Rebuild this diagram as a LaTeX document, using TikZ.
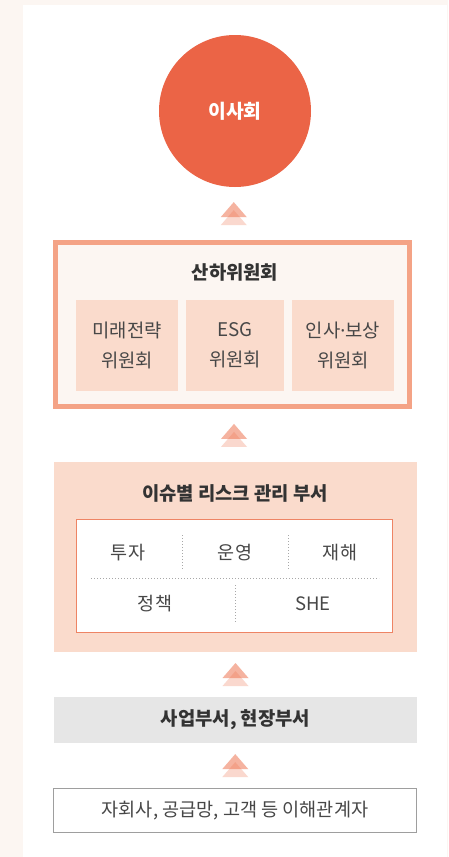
\documentclass[tikz,border=0pt]{standalone}
\usepackage{fontspec}
\setmainfont{Noto Sans CJK KR}
\newfontfamily\narrowdot{Noto Sans}
\definecolor{beige}{HTML}{FCF6F2}
\definecolor{boardred}{HTML}{EB6446}
\definecolor{salmon}{HTML}{F4A386}
\definecolor{peach}{HTML}{FADBCC}
\definecolor{rim}{HTML}{EE8464}
\definecolor{bizgray}{HTML}{E6E6E6}
\definecolor{framegray}{HTML}{9E9E9E}
\definecolor{dotgray}{HTML}{A8A8A8}
\definecolor{darktext}{HTML}{333333}
\definecolor{midtext}{HTML}{474747}
\definecolor{arrowtone}{HTML}{EE7552}

\begin{document}
\begin{tikzpicture}[x=1pt, y=-1pt,
    every node/.style={font=\fontsize{18.5}{22}\selectfont, text=midtext, inner sep=0pt},
    heading/.style={font=\fontsize{18.8}{22}\selectfont\bfseries, text=darktext},
    unit/.style={fill=peach, minimum height=91pt, align=center, font=\fontsize{18.8}{30}\selectfont},
    sep/.style={dotgray, line width=1pt, dash pattern=on 1pt off 2pt}]
    % background
    \fill[beige] (0,0) rectangle (448,857);
    \fill[white] (23,5) rectangle (447,857);
    \useasboundingbox (0,0) rectangle (448,857);

    \node[circle, fill=boardred, minimum size=152pt, text=white, font=\fontsize{19.3}{22}\selectfont\bfseries] (board) at (235,111) {이사회};

    \node[draw=salmon, line width=5pt, fill=beige, minimum width=354pt, minimum height=164pt] (subs) at (232.5,324.5) {};
    \node[heading] (substitle) at (235,272) {산하위원회};
    \node[unit, minimum width=102pt] (future) at (127,345.5) {미래전략\\위원회};
    \node[unit, minimum width=98pt] (esg) at (235,345.5) {ESG\\위원회};
    \node[unit, minimum width=102pt] (hr) at (343,345.5) {인사{\narrowdot·}보상\\위원회};

    \node[fill=peach, minimum width=363pt, minimum height=190pt] (risk) at (235.5,557) {};
    \node[heading] (risktitle) at (235,493) {이슈별 리스크 관리 부서};
    \node[draw=rim, line width=1pt, fill=white, minimum width=316pt, minimum height=113pt] (area) at (234.5,576) {};
    \node (invest) at (128,553) {투자};
    \node (ops) at (235,553) {운영};
    \node (disaster) at (340,553) {재해};
    \node (policy) at (155,604) {정책};
    \node (she) at (313,604) {SHE};
    \draw[sep] (182,535) -- (182,570);
    \draw[sep] (288,535) -- (288,570);
    \draw[sep] (91,578) -- (379,578);
    \draw[sep] (235,585) -- (235,622);

    \node[heading, fill=bizgray, minimum width=363pt, minimum height=46pt] (biz) at (235.5,720) {사업부서, 현장부서};
    \node[draw=framegray, line width=1pt, fill=white, minimum width=363pt, minimum height=44pt, font=\fontsize{18.6}{22}\selectfont] (stake) at (235,810.5) {자회사, 공급망, 고객 등 이해관계자};

    % stacked triangles pointing up
    \foreach \lo/\hi in {subs/board, risk/subs, biz/risk, stake/biz} {
      \path (\lo.north) -- (\hi.south) coordinate[midway] (mid);
      \begin{scope}[shift={(mid)}]
        \fill[arrowtone, opacity=0.28] (-13,11.5) -- (0,-3.5) -- (13,11.5) -- cycle;
        \fill[arrowtone, opacity=0.55] (-13,3.5) -- (0,-11.5) -- (13,3.5) -- cycle;
      \end{scope}
    }
\end{tikzpicture}
\end{document}
